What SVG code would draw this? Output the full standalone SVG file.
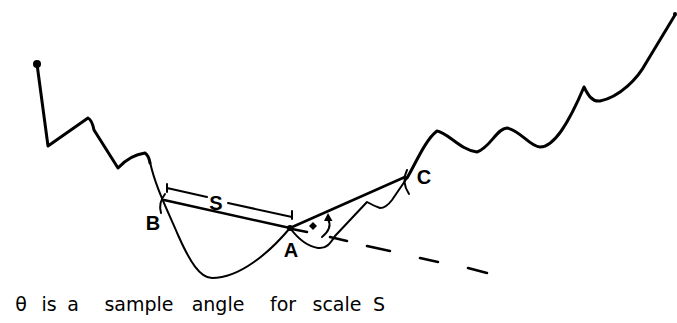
<svg xmlns="http://www.w3.org/2000/svg" width="677" height="323" viewBox="0 0 677 323">
<style>
.ink{fill:none;stroke:#000;stroke-linecap:round;stroke-linejoin:round}
.thick{stroke-width:3}
.mid{stroke-width:2.5}
.thin{stroke-width:2}
.lbl{font-family:"Liberation Sans",Arial,sans-serif;font-size:20px;font-weight:bold;fill:#000;text-anchor:middle}
.cap{font-family:"DejaVu Sans",sans-serif;font-size:19px;fill:#000;text-anchor:middle}
</style>
<rect width="677" height="323" fill="#fff"/>
<g id="landscape">
<circle cx="37" cy="64" r="4" fill="#000"/>
<path class="ink thick" d="M37,64 L48,146 L88,118 Q92,120 94,130 L118,168 Q130,155 145,153 Q149,156 150,163"/>
<path class="ink thin" d="M150,162 C155,185 165,205 178,235 C190,262 200,278 212,278 C240,278 270,252 290,228 C296,236 305,246 318,248 C326,249 330,244 335,236 L367,202 Q374,206 380,208 Q386,208 392,200 L407,178"/>
<path class="ink thick" d="M407,178 C415,165 425,140 437,131 C447,132 460,150 477,152 C490,148 497,128 507,128 C520,130 530,147 540,147 C555,147 570,120 584,87 C588,95 592,102 600,101 C620,97 638,78 646,63 L675,15"/>
<circle cx="675" cy="14" r="2" fill="#000"/>
</g>
<g id="connectors">
<line class="ink mid" x1="164" y1="200" x2="290" y2="228"/>
<line class="ink mid" x1="290" y1="228" x2="405" y2="177"/>
<path class="ink mid" d="M292,229 L307,232 M330,237 L347,241 M367,246 L390,251 M420,258 L438,262 M468,268 L487,273"/>
<path class="ink thin" d="M167,184 L167,192 M167,188 L207,197 M228,203 L292,217 M292,211 L292,219"/>
<path class="ink thin" d="M322,237 Q333,228 328,219"/>
<path d="M328,213 L332.5,221 L324,221 Z" fill="#000"/>
</g>
<g id="node-B">
<path class="ink thin" d="M165,194 Q158,203 161,213"/>
<text class="lbl" x="153" y="230">B</text>
</g>
<g id="label-S">
<text class="lbl" x="216" y="210">S</text>
</g>
<g id="node-A">
<circle cx="290" cy="228" r="3" fill="#000"/>
<path d="M309,226 L313,222 L317,226 L313,230 Z" fill="#000"/>
<text class="lbl" x="291" y="257">A</text>
</g>
<g id="node-C">
<path class="ink thin" d="M407,170 Q401,182 409,194"/>
<text class="lbl" x="424" y="184">C</text>
</g>
<g id="caption">
<text class="cap" x="21" y="311">θ</text>
<text class="cap" x="49" y="311">is</text>
<text class="cap" x="73" y="311">a</text>
<text class="cap" x="139" y="311">sample</text>
<text class="cap" x="218" y="311">angle</text>
<text class="cap" x="283" y="311">for</text>
<text class="cap" x="337" y="311">scale</text>
<text class="cap" x="379" y="311">S</text>
</g>
</svg>
